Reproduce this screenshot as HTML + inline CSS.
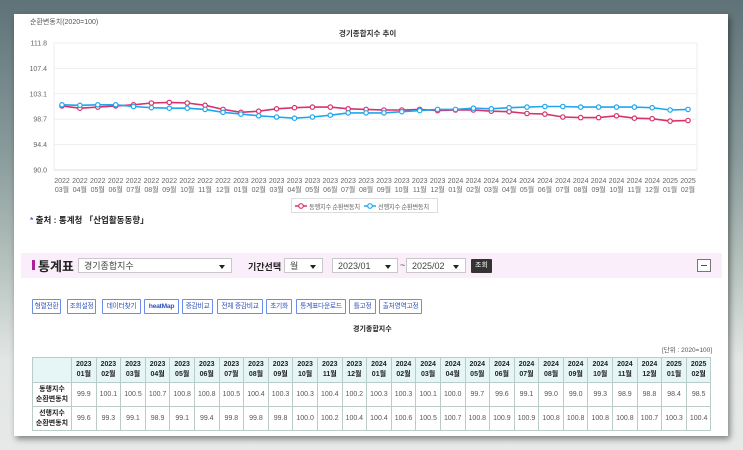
<!DOCTYPE html>
<html><head><meta charset="utf-8">
<style>
*{margin:0;padding:0;box-sizing:border-box}
body{width:743px;height:450px;overflow:hidden;position:relative;font-family:"Liberation Sans","Noto Sans CJK KR",sans-serif;background:linear-gradient(180deg,#5f7278 0%,#8a9c9c 35%,#b8c4bf 60%,#e2e6e4 80%,#e6e9e7 100%)}
#page{position:absolute;left:14px;top:14px;width:714px;height:422px;background:#fff;box-shadow:2px 3px 6px rgba(0,0,0,.45)}
.a{position:absolute;white-space:nowrap}
.sel{position:absolute;border:1px solid #c8c8c8;background:#fff;font-size:9px;color:#444;padding:2px 5px;height:15px;line-height:10px}
.sel:after{content:"";position:absolute;right:6px;top:6px;border-left:3px solid transparent;border-right:3px solid transparent;border-top:4px solid #222}
.btn{position:absolute;top:299px;height:15px;border:1px solid #6a8ee8;color:#3355bb;font-size:6.8px;line-height:13px;text-align:center;border-radius:1px;white-space:nowrap;overflow:hidden;letter-spacing:-0.3px}
table{position:absolute;left:32px;top:357px;border-collapse:collapse;font-size:7px;color:#555}
td,th{border:1px solid #b9ccc8;text-align:center;padding:0}
th{background:#e6f6f6;color:#222;font-weight:bold;height:25px;line-height:10px;font-size:7px}
td{height:24px}
td.h{background:#fff;color:#222;font-weight:bold;line-height:10px}
</style></head><body>
<div id="page"></div>
<div class="a" style="left:30px;top:17px;font-size:7px;color:#555">순환변동치(2020=100)</div>
<div class="a" style="left:339px;top:28px;font-size:7.5px;color:#333;font-weight:bold">경기종합지수 추이</div>
<svg id="ch" class="a" style="left:0;top:0" width="743" height="240"></svg>
<div class="a" style="left:291px;top:198px;width:147px;height:15px;border:1px solid #ddd"></div>
<svg class="a" style="left:293px;top:200px" width="150" height="12">
<line x1="2" y1="6" x2="14" y2="6" stroke="#d6336c" stroke-width="1.5"/><circle cx="8" cy="6" r="2.3" fill="#fff" stroke="#d6336c" stroke-width="1.2"/>
<line x1="71" y1="6" x2="83" y2="6" stroke="#1ea7f0" stroke-width="1.5"/><circle cx="77" cy="6" r="2.3" fill="#fff" stroke="#1ea7f0" stroke-width="1.2"/>
</svg>
<div class="a" style="left:309px;top:201.5px;font-size:6.3px;color:#666;letter-spacing:-0.3px">동행지수 순환변동치</div>
<div class="a" style="left:378px;top:201.5px;font-size:6.3px;color:#666;letter-spacing:-0.3px">선행지수 순환변동치</div>
<div class="a" style="left:30px;top:214px;font-size:8.5px;color:#222;font-weight:bold"><span style="color:#3a6fd8">*</span> 출처 : 통계청 「산업활동동향」</div>

<div class="a" style="left:21px;top:253px;width:701px;height:25px;background:#fbeefb"></div>
<div class="a" style="left:32px;top:260px;width:3px;height:10px;background:#b01f9a"></div>
<div class="a" style="left:38px;top:256px;font-size:13px;font-weight:bold;color:#222">통계표</div>
<div class="sel" style="left:78px;top:258px;width:154px">경기종합지수</div>
<div class="a" style="left:248px;top:260px;font-size:9px;color:#222;font-weight:bold">기간선택</div>
<div class="sel" style="left:284px;top:258px;width:39px">월</div>
<div class="sel" style="left:332px;top:258px;width:66px">2023/01</div>
<div class="a" style="left:400px;top:260px;font-size:9px;color:#444">~</div>
<div class="sel" style="left:406px;top:258px;width:60px">2025/02</div>
<div class="a" style="left:471px;top:259px;width:21px;height:14px;background:#333;color:#fff;font-size:7px;line-height:14px;text-align:center;border-radius:1px">조회</div>
<div class="a" style="left:697px;top:259px;width:14px;height:13px;border:1px solid #777;background:#fff"><div style="position:absolute;left:3px;top:5px;width:6px;height:1px;background:#555"></div></div>

<div class="btn" style="left:32px;width:29px">형렬전환</div>
<div class="btn" style="left:67px;width:29px">조회설정</div>
<div class="btn" style="left:102px;width:39px">데이터찾기</div>
<div class="btn" style="left:144px;width:35px;font-weight:bold">heatMap</div>
<div class="btn" style="left:182px;width:31px">증감비교</div>
<div class="btn" style="left:217px;width:46px">전체 증감비교</div>
<div class="btn" style="left:266px;width:26px">초기화</div>
<div class="btn" style="left:296px;width:50px">통계표다운로드</div>
<div class="btn" style="left:349px;width:27px">틀고정</div>
<div class="btn" style="left:379px;width:43px">출처영역고정</div>
<div class="a" style="left:353px;top:324px;font-size:7px;font-weight:bold;color:#222">경기종합지수</div>
<div class="a" style="left:662px;top:344px;font-size:6.5px;color:#555">[단위 : 2020=100]</div>
<table id="tb"></table>
<script>
var R=[101.0,100.6,100.8,101.0,101.2,101.5,101.6,101.5,101.1,100.4,99.9,100.1,100.5,100.7,100.8,100.8,100.5,100.4,100.3,100.3,100.4,100.2,100.3,100.3,100.1,100.0,99.7,99.6,99.1,99.0,99.0,99.3,98.9,98.8,98.4,98.5];
var B=[101.2,101.1,101.2,101.2,100.9,100.7,100.6,100.6,100.4,99.9,99.6,99.3,99.1,98.9,99.1,99.4,99.8,99.8,99.8,100.0,100.2,100.4,100.4,100.6,100.5,100.7,100.8,100.9,100.9,100.8,100.8,100.8,100.8,100.7,100.3,100.4];
var s='';
var yl=['111.8','107.4','103.1','98.7','94.4','90.0'];
for(var i=0;i<6;i++){var y=43+i*25.4;s+='<line x1="54" x2="697" y1="'+y+'" y2="'+y+'" stroke="'+(i==5?'#ddd':'#eee')+'" stroke-width="1"/>';s+='<text x="47" y="'+(y+2.5)+'" font-size="7" fill="#666" text-anchor="end">'+yl[i]+'</text>';}
s+='<line x1="697" x2="697" y1="43" y2="170" stroke="#eee"/><line x1="54" x2="54" y1="43" y2="170" stroke="#eee"/>';
function X(i){return 62+i*17.886}
function Y(v){return 170-(v-90)*5.8257}
var months=[];for(var i=0;i<36;i++){var m=i+2;var yr=2022+Math.floor(m/12);var mo=m%12+1;months.push([yr,(mo<10?'0':'')+mo+'월']);}
for(var i=0;i<36;i++){s+='<text x="'+X(i)+'" y="183" font-size="7" fill="#666" text-anchor="middle">'+months[i][0]+'</text><text x="'+X(i)+'" y="192" font-size="7" fill="#666" text-anchor="middle">'+months[i][1]+'</text>';}
function ser(d,c){var p=d.map(function(v,i){return X(i).toFixed(1)+','+Y(v).toFixed(1)}).join(' ');var o='<polyline points="'+p+'" fill="none" stroke="'+c+'" stroke-width="1.6"/>';d.forEach(function(v,i){o+='<circle cx="'+X(i).toFixed(1)+'" cy="'+Y(v).toFixed(1)+'" r="2.2" fill="#fff" stroke="'+c+'" stroke-width="1.2"/>'});return o}
s+=ser(R,'#d6336c')+ser(B,'#1ea7f0');
document.getElementById('ch').innerHTML=s;
var t='<tr><th style="width:39px;background:#e6f6f6"></th>';
for(var i=10;i<36;i++)t+='<th style="width:24.6px">'+months[i][0]+'<br>'+months[i][1]+'</th>';
t+='</tr><tr><td class="h">동행지수<br>순환변동치</td>';
for(var i=10;i<36;i++)t+='<td>'+R[i].toFixed(1)+'</td>';
t+='</tr><tr><td class="h">선행지수<br>순환변동치</td>';
for(var i=10;i<36;i++)t+='<td>'+B[i].toFixed(1)+'</td>';
t+='</tr>';
document.getElementById('tb').innerHTML=t;
</script>
</body></html>
